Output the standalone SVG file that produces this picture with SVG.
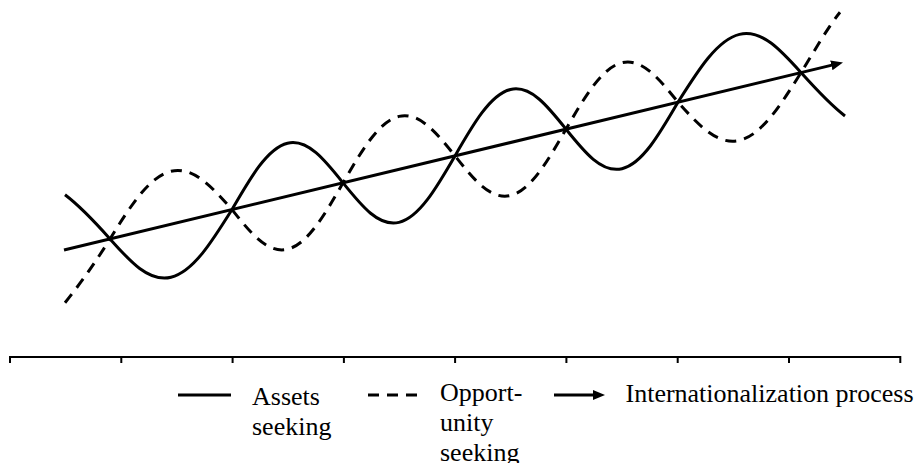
<svg xmlns="http://www.w3.org/2000/svg" width="924" height="463" viewBox="0 0 924 463">
  <style>
    .curve { fill: none; stroke: #000; stroke-width: 3; stroke-linejoin: round; }
    .dash { stroke-dasharray: 11 8; }
    .axis { fill: none; stroke: #000; stroke-width: 2; }
    .lbl { font-family: "Liberation Serif", "Times New Roman", serif; font-size: 26px; fill: #000; }
  </style>
  <defs>
    <marker id="arrow" markerUnits="userSpaceOnUse" markerWidth="14" markerHeight="12" refX="6" refY="5" orient="auto">
      <path d="M0,0 L12,5 L0,10 Z" fill="#000"/>
    </marker>
  </defs>

  <g id="connectors">
    <path id="assets-seeking" class="curve" d="M65,194.75 C80,206.14 95,222.03 110,238.92 C129.9,261.28 148.9,282.56 171,277.24 C193.1,271.92 212.1,241.5 232,209.56 C250.1,178.05 267.4,148.04 287.5,143.2 C307.6,138.36 324.9,160.05 343,182.84 C361.3,205.59 378.7,227.25 399,222.36 C419.3,217.47 436.7,187.44 455,155.88 C473.1,124.38 490.4,94.36 510.5,89.52 C530.6,84.68 547.9,106.37 566,129.16 C584.3,151.91 601.7,173.57 622,168.68 C642.3,163.8 659.7,133.76 678,102.21 C698.1,70.22 717.2,39.77 739.5,34.4 C761.8,29.03 780.9,50.29 801,72.6 C815.7,88.96 830.3,104.85 845,116.01"/>
    <path id="opportunity-seeking" class="curve dash" d="M65,302.75 C80,284.14 95,263.03 110,238.92 C129.9,206.98 148.9,176.56 171,171.24 C193.1,165.92 212.1,187.2 232,209.56 C250.1,232.35 267.4,254.04 287.5,249.2 C307.6,244.36 324.9,214.35 343,182.84 C361.3,151.29 378.7,121.25 399,116.36 C419.3,111.47 436.7,133.14 455,155.88 C473.1,178.68 490.4,200.36 510.5,195.52 C530.6,190.68 547.9,160.67 566,129.16 C584.3,97.61 601.7,67.57 622,62.68 C642.3,57.8 659.7,79.46 678,102.21 C698.1,124.52 717.2,145.77 739.5,140.4 C761.8,135.03 780.9,104.59 801,72.6 C814,51.87 827,28.34 840,12.21"/>
    <line id="internationalization-process" class="curve" x1="64" y1="250" x2="837.17" y2="63.9" marker-end="url(#arrow)"/>
  </g>

  <g id="axis">
    <line class="axis" x1="10" y1="357" x2="900.3" y2="357"/>
    <path class="axis" d="M10,356 V363 M121.3,357 V363 M232.6,357 V363 M343.9,357 V363 M455.1,357 V363 M566.4,357 V363 M677.7,357 V363 M789,357 V363 M900.3,356 V363"/>
  </g>

  <g id="legend-assets">
    <line class="curve" x1="178" y1="395" x2="231" y2="395"/>
    <text class="lbl" x="252" y="405">Assets</text>
    <text class="lbl" x="252" y="435">seeking</text>
  </g>
  <g id="legend-opportunity">
    <line class="curve dash" x1="368" y1="395" x2="417" y2="395"/>
    <text class="lbl" x="440" y="401">Opport-</text>
    <text class="lbl" x="440" y="431">unity</text>
    <text class="lbl" x="440" y="461">seeking</text>
  </g>
  <g id="legend-process">
    <line class="curve" x1="554" y1="395" x2="599" y2="395" marker-end="url(#arrow)"/>
    <text class="lbl" x="625.5" y="402">Internationalization process</text>
  </g>
</svg>
